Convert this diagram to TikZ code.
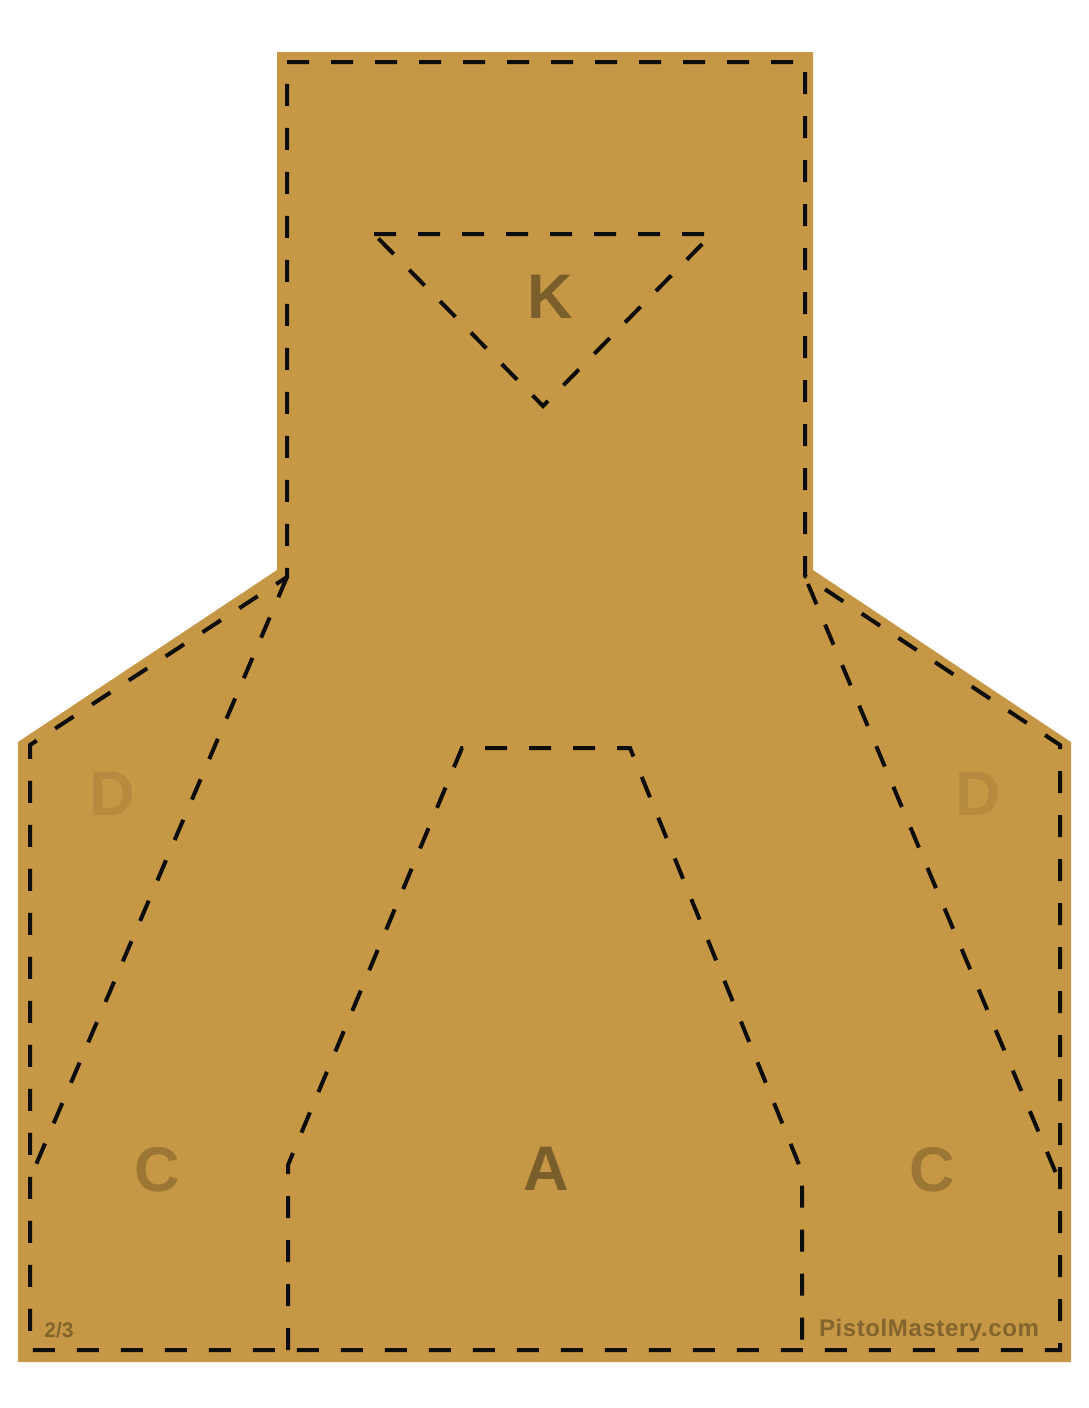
\documentclass[tikz,border=0pt]{standalone}
\usepackage{fontspec}
\setmainfont{Liberation Sans}
\definecolor{cardboard}{RGB}{198,151,68}
\definecolor{zonedark}{RGB}{122,94,44}
\definecolor{zonemid}{RGB}{156,118,52}
\definecolor{zonelight}{RGB}{182,139,62}

\begin{document}
\begin{tikzpicture}[x=1pt,y=-1pt,
    perf/.style={line width=4pt, dash pattern=on 22pt off 22pt, black!95},
    zonelbl/.style={inner sep=0pt, font=\fontsize{63}{63}\selectfont\bfseries},
    smalllbl/.style={inner sep=0pt, text=zonedark!90!cardboard}]
    \useasboundingbox (0,0) rectangle (1088,1408);

    % ---- target board -------------------------------
    \fill[cardboard] (277,52) -- (813,52) -- (813,570) -- (1071,742)
      -- (1071,1362) -- (18,1362) -- (18,742) -- (277,570) -- cycle;

    % ---- perforations -------------------------------
    \coordinate (neckL) at (287,577);
    \coordinate (neckR) at (808,584);
    \draw[perf] (287,62) -- (805,62) -- (805,576) -- (1060,745)
      -- (1060,1350) -- (30,1350) -- (30,745) -- (neckL) -- cycle;
    \draw[perf] (neckL) -- (35,1167);          % left D / C
    \draw[perf] (neckR) -- (1058,1178);        % right D / C
    \draw[perf] (288,1350) -- (288,1165) -- (462,748)
      -- (630,748) -- (802,1172) -- (802,1350);  % A zone
    \draw[perf] (374,234) -- (712,234) -- (543,406) -- cycle;  % K

    % ---- zone letters -------------------------------
    \node[zonelbl, text=zonedark]  (k)  at (550,297)  {K};
    \node[zonelbl, text=zonelight] (dl) at (112,794)  {D};
    \node[zonelbl, text=zonelight] (dr) at (978,794)  {D};
    \node[zonelbl, text=zonemid]   (cl) at (157,1170) {C};
    \node[zonelbl, text=zonemid]   (cr) at (932,1170) {C};
    \node[zonelbl, text=zonedark]  (a)  at (546,1169) {A};

    % ---- small print --------------------------------
    \node[smalllbl, font=\fontsize{21}{21}\selectfont\bfseries] (scale) at (59,1330) {2/3};
    \node[smalllbl, font=\fontsize{24}{24}\selectfont\bfseries\addfontfeatures{LetterSpace=2.5}]
      (site) at (929,1330) {PistolMastery.com};
\end{tikzpicture}
\end{document}
